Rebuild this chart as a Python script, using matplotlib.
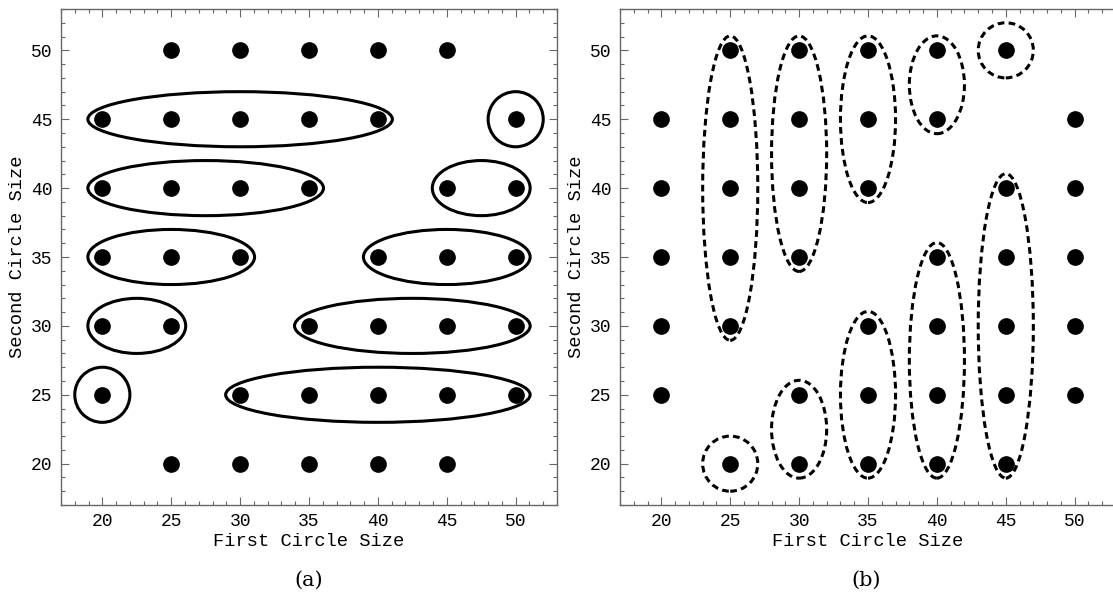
import matplotlib.pyplot as plt
from matplotlib.patches import Ellipse
from matplotlib.ticker import MultipleLocator

# Circle-size pairs (first, second) for panel (a); panel (b) uses the same pairs swapped
sizes = [20, 25, 30, 35, 40, 45, 50]
rows_a = {
    50: [25, 30, 35, 40, 45],
    45: [20, 25, 30, 35, 40, 50],
    40: [20, 25, 30, 35, 45, 50],
    35: [20, 25, 30, 40, 45, 50],
    30: [20, 25, 35, 40, 45, 50],
    25: [20, 30, 35, 40, 45, 50],
    20: [25, 30, 35, 40, 45],
}

# Groups drawn as rings: (row value, first member, last member)
groups_a = [
    (45, 20, 40), (45, 50, 50),
    (40, 20, 35), (40, 45, 50),
    (35, 20, 30), (35, 40, 50),
    (30, 20, 25), (30, 35, 50),
    (25, 20, 20), (25, 30, 50),
]
# Groups for panel (b): (column value, lowest member, highest member)
groups_b = [
    (25, 30, 50), (30, 35, 50), (35, 40, 50), (40, 45, 50), (45, 50, 50),
    (25, 20, 20), (30, 20, 25), (35, 20, 30), (40, 20, 35), (45, 20, 40),
]

MONO = 'Liberation Mono'
W, H = 1113, 602
fig = plt.figure(figsize=(W / 100, H / 100), dpi=100)


def make_axes(left_px, right_ticks=True):
    ax = fig.add_axes([left_px / W, (H - 505) / H, 496 / W, 496 / H])
    ax.set_xlim(17, 53)
    ax.set_ylim(17, 53)
    ax.xaxis.set_major_locator(MultipleLocator(5))
    ax.yaxis.set_major_locator(MultipleLocator(5))
    ax.xaxis.set_minor_locator(MultipleLocator(1))
    ax.yaxis.set_minor_locator(MultipleLocator(1))
    ax.tick_params(which='both', direction='in', top=True, right=right_ticks,
                   color='#666666', width=0.8)
    ax.tick_params(which='major', length=6, labelsize=13, pad=6)
    ax.tick_params(which='minor', length=3)
    for lab in ax.get_xticklabels() + ax.get_yticklabels():
        lab.set_family(MONO)
    for sp in ax.spines.values():
        sp.set_color('#666666')
        sp.set_linewidth(1.0)
    ax.set_xlabel('First Circle Size', family=MONO, fontsize=13.5, labelpad=2)
    ax.set_ylabel('Second Circle Size', family=MONO, fontsize=13.5, labelpad=4)
    return ax


def ring_size(lo, hi):
    # rings reach one unit past the outer members, never smaller than radius 2
    return max((hi - lo) + 2.1, 4)


ax_a = make_axes(61)
ax_b = make_axes(620, right_ticks=False)

# panel (a): horizontal rows of points with solid rings
for y, xs in rows_a.items():
    ax_a.plot(xs, [y] * len(xs), 'o', color='black', markersize=11, zorder=3)
for y, x0, x1 in groups_a:
    ax_a.add_patch(Ellipse(((x0 + x1) / 2, y), ring_size(x0, x1), 4,
                           fill=False, ec='black', lw=2.2, zorder=2))

# panel (b): same pairs transposed, dashed rings
for x, ys in rows_a.items():
    ax_b.plot([x] * len(ys), ys, 'o', color='black', markersize=11, zorder=3)
for x, y0, y1 in groups_b:
    ax_b.add_patch(Ellipse((x, (y0 + y1) / 2), 4, ring_size(y0, y1),
                           fill=False, ec='black', lw=2.2, ls=(0, (2.2, 1.4)),
                           zorder=2))

fig.text(309 / W, 1 - 580 / H, '(a)', family='DejaVu Serif', fontsize=15,
         ha='center', va='center')
fig.text(866 / W, 1 - 580 / H, '(b)', family='DejaVu Serif', fontsize=15,
         ha='center', va='center')

fig.savefig('out.png', dpi=100)
